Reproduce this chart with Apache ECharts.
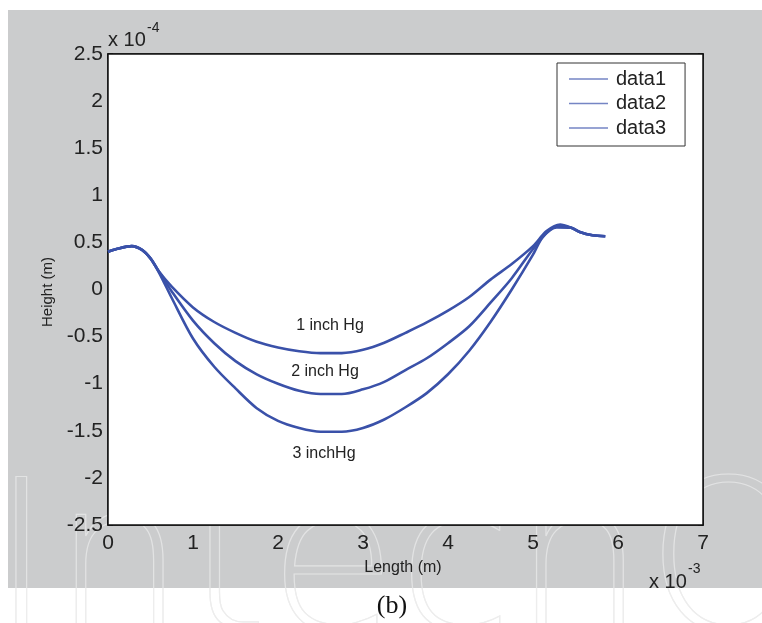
<!DOCTYPE html>
<html>
<head>
<meta charset="utf-8">
<script src="https://cdn.jsdelivr.net/npm/echarts@6/dist/echarts.min.js"></script>
<style>
html,body{margin:0;padding:0;background:#fff;}
#chart{width:762px;height:623px;}
</style>
</head>
<body>
<div id="chart"></div>
<script>
// Length in units of 1e-3 m, Height in units of 1e-4 m
var seriesNames = ['data1', 'data2', 'data3'];
var xTicks = [0, 1, 2, 3, 4, 5, 6, 7];
var yTicks = [-2.5, -2, -1.5, -1, -0.5, 0, 0.5, 1, 1.5, 2, 2.5];

var data1Length = [0, 0.1, 0.28, 0.4, 0.5, 0.6, 0.75, 1.0, 1.25, 1.5, 1.75, 2.0, 2.25, 2.5, 2.75, 3.0, 3.25, 3.5, 3.75, 4.0, 4.25, 4.5, 4.75, 5.0, 5.16, 5.32, 5.45, 5.55, 5.7, 5.85];
var data1Height = [0.40, 0.43, 0.46, 0.42, 0.33, 0.19, 0.03, -0.19, -0.345, -0.46, -0.555, -0.615, -0.655, -0.675, -0.675, -0.64, -0.565, -0.46, -0.35, -0.225, -0.08, 0.105, 0.27, 0.46, 0.62, 0.69, 0.655, 0.61, 0.575, 0.565];

var data2Length = [0, 0.1, 0.28, 0.4, 0.5, 0.6, 0.75, 1.0, 1.25, 1.5, 1.75, 2.0, 2.25, 2.5, 2.75, 3.0, 3.25, 3.5, 3.75, 4.0, 4.25, 4.5, 4.75, 5.0, 5.16, 5.3, 5.45, 5.55, 5.7, 5.85];
var data2Height = [0.40, 0.43, 0.46, 0.42, 0.33, 0.19, -0.02, -0.33, -0.57, -0.76, -0.9, -1.0, -1.075, -1.11, -1.11, -1.06, -0.98, -0.855, -0.73, -0.57, -0.39, -0.14, 0.12, 0.43, 0.60, 0.68, 0.655, 0.61, 0.575, 0.565];

var data3Length = [0, 0.1, 0.28, 0.4, 0.5, 0.6, 0.75, 1.0, 1.25, 1.5, 1.75, 2.0, 2.25, 2.5, 2.75, 3.0, 3.25, 3.5, 3.75, 4.0, 4.25, 4.5, 4.75, 5.0, 5.12, 5.28, 5.45, 5.55, 5.7, 5.85];
var data3Height = [0.40, 0.43, 0.46, 0.42, 0.33, 0.18, -0.09, -0.52, -0.82, -1.05, -1.26, -1.395, -1.47, -1.51, -1.51, -1.47, -1.38, -1.25, -1.1, -0.9, -0.65, -0.345, 0.0, 0.37, 0.565, 0.66, 0.655, 0.61, 0.575, 0.565];

var annotations = ['1 inch Hg', '2 inch Hg', '3 inchHg'];

function pairs(xs, ys) { return xs.map(function (x, i) { return [x, ys[i]]; }); }
var lengths = [data1Length, data2Length, data3Length];
var heights = [data1Height, data2Height, data3Height];

var FONT = 'Liberation Sans, Arial, sans-serif';
var lineColor = '#3a51a9';
var axisCommon = {
  axisLine: { show: true, onZero: false, lineStyle: { color: '#111', width: 1.5 } },
  axisTick: { show: true, inside: true, length: 5, lineStyle: { color: '#111', width: 1.5 } },
  splitLine: { show: false }
};

var chart = echarts.init(document.getElementById('chart'), null, { renderer: 'canvas' });
var option = {
  backgroundColor: '#ffffff',
  animation: false,
  grid: { left: 108, top: 54, width: 595, height: 471, show: true, backgroundColor: '#ffffff', borderColor: '#111', borderWidth: 1.5, z: 1 },
  legend: {
    data: seriesNames,
    orient: 'vertical',
    left: 557, top: 63,
    padding: [6, 19, 8, 12],
    itemGap: 4.5,
    itemWidth: 39, itemHeight: 1.5,
    icon: 'rect',
    backgroundColor: '#ffffff',
    borderColor: '#333',
    borderWidth: 1,
    itemStyle: { color: '#7585c4' },
    textStyle: { fontFamily: FONT, fontSize: 20, color: '#222', lineHeight: 20, padding: [0, 0, 0, 3] }
  },
  xAxis: [
    Object.assign({
      type: 'value', min: 0, max: 7, interval: 1, position: 'bottom',
      axisLabel: { fontFamily: FONT, fontSize: 21, color: '#222', margin: 8 }
    }, axisCommon),
    Object.assign({
      type: 'value', min: 0, max: 7, interval: 1, position: 'top',
      axisLabel: { show: false }
    }, axisCommon)
  ],
  yAxis: [
    Object.assign({
      type: 'value', min: -2.5, max: 2.5, interval: 0.5, position: 'left',
      axisLabel: { fontFamily: FONT, fontSize: 21, color: '#222', margin: 5 }
    }, axisCommon),
    Object.assign({
      type: 'value', min: -2.5, max: 2.5, interval: 0.5, position: 'right',
      axisLabel: { show: false }
    }, axisCommon)
  ],
  series: seriesNames.map(function (name, i) {
    return {
      name: name, type: 'line', xAxisIndex: 0, yAxisIndex: 0,
      data: pairs(lengths[i], heights[i]),
      smooth: 0.3, showSymbol: false, symbol: 'none',
      lineStyle: { color: lineColor, width: 2.6 },
      itemStyle: { color: lineColor },
      z: 3
    };
  }),
  graphic: [
    { type: 'text', z: -20, left: -10, top: 470, silent: true,
      style: { text: 'IntechOpen', font: '200 210px DejaVu Sans', fill: 'none', stroke: '#dedede', lineWidth: 1.2 } },
    { type: 'rect', z: -10, silent: true, shape: { x: 8, y: 10, width: 754, height: 578 }, style: { fill: '#cbcccd' } },
    { type: 'text', z: -9, left: -10, top: 470, silent: true,
      style: { text: 'IntechOpen', font: '200 210px DejaVu Sans', fill: 'none', stroke: 'rgba(255,255,255,0.45)', lineWidth: 1.2 } },
    { type: 'text', z: 10, x: 108, y: 40, style: { text: 'x 10', font: '20px ' + FONT, fill: '#222', textVerticalAlign: 'middle' } },
    { type: 'text', z: 10, x: 147, y: 28, style: { text: '-4', font: '14px ' + FONT, fill: '#222', textVerticalAlign: 'middle' } },
    { type: 'text', z: 10, x: 649, y: 582, style: { text: 'x 10', font: '20px ' + FONT, fill: '#222', textVerticalAlign: 'middle' } },
    { type: 'text', z: 10, x: 688, y: 569, style: { text: '-3', font: '14px ' + FONT, fill: '#222', textVerticalAlign: 'middle' } },
    { type: 'text', z: 10, x: 403, y: 568, style: { text: 'Length (m)', font: '16px ' + FONT, fill: '#222', textAlign: 'center', textVerticalAlign: 'middle' } },
    { type: 'text', z: 10, x: 48, y: 292, rotation: Math.PI / 2, style: { text: 'Height (m)', font: '15px ' + FONT, fill: '#222', textAlign: 'center', textVerticalAlign: 'middle' } },
    { type: 'text', z: 10, x: 330, y: 326, style: { text: annotations[0], font: '16px ' + FONT, fill: '#222', textAlign: 'center', textVerticalAlign: 'middle' } },
    { type: 'text', z: 10, x: 325, y: 372, style: { text: annotations[1], font: '16px ' + FONT, fill: '#222', textAlign: 'center', textVerticalAlign: 'middle' } },
    { type: 'text', z: 10, x: 324, y: 454, style: { text: annotations[2], font: '16px ' + FONT, fill: '#222', textAlign: 'center', textVerticalAlign: 'middle' } },
    { type: 'text', z: 10, x: 392, y: 606, style: { text: '(b)', font: '26px Liberation Serif, serif', fill: '#111', textAlign: 'center', textVerticalAlign: 'middle' } }
  ]
};
chart.setOption(option);
</script>
</body>
</html>
